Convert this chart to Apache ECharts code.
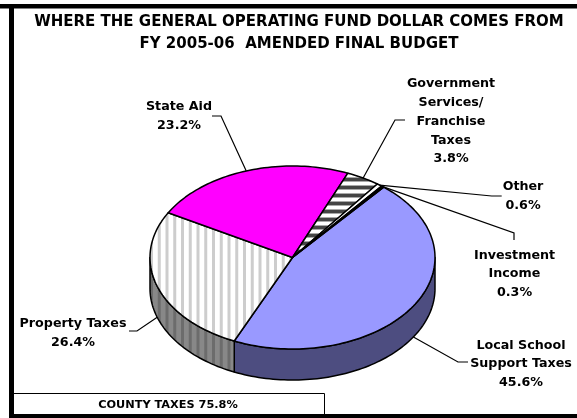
<!DOCTYPE html>
<html>
<head>
<meta charset="utf-8">
<style>html,body{margin:0;padding:0;background:#fff}#c{width:577px;height:418px}</style>
<script src="https://cdn.jsdelivr.net/npm/echarts@6/dist/echarts.min.js"></script>
</head>
<body>
<div id="c"></div>
<script>
var categories = ['Local School\nSupport Taxes', 'Property Taxes', 'State Aid', 'Government\nServices/\nFranchise\nTaxes', 'Other', 'Investment\nIncome'];
var values = [45.6, 26.4, 23.2, 3.8, 0.6, 0.3];
var titleLines = ['WHERE THE GENERAL OPERATING FUND DOLLAR COMES FROM', 'FY 2005-06  AMENDED FINAL BUDGET'];
var noteText = 'COUNTY TAXES 75.8%';

var FONT = '"DejaVu Sans", Verdana, sans-serif';
var START_DEG = 39.8;
var DEPTH = 0.339;

function stripes(w, h, period, vertical, bg, parts, phase) {
  var c = document.createElement('canvas');
  c.width = w; c.height = h;
  var g = c.getContext('2d');
  g.fillStyle = bg; g.fillRect(0, 0, w, h);
  var len = vertical ? w : h;
  for (var p = phase - period; p < len + period; p += period) {
    parts.forEach(function (s) {
      g.fillStyle = s[2];
      if (vertical) g.fillRect(p + s[0], 0, s[1], h);
      else g.fillRect(0, p + s[0], w, s[1]);
    });
  }
  return { image: c, repeat: 'repeat' };
}
var vertLight = stripes(31, 8, 7.75, true, '#ffffff', [[-1.5, 3, '#cdcdcd']], 4.25);
var vertDark = stripes(31, 8, 7.75, true, '#888888', [[-1.5, 3, '#6c6c6c']], 4.25);
var horiz = stripes(8, 24, 8, false, '#ffffff', [[0, 1, '#a8a8a8'], [1, 3, '#444444'], [4, 1, '#a8a8a8']], 1);

var topFill = ['#9999ff', vertLight, '#ff00ff', horiz, '#ffffff', '#000000'];
var sideFill = ['#4d4d80', vertDark, '#800080', '#555555', '#808080', '#000000'];

// leader route after the anchor on the slice, and label centre (px)
var leaders = [
  { route: [[458, 362], [468, 362]], onSide: true, text: [521, 364] },
  { route: [[137, 331], [129, 331]], onSide: true, text: [73, 333] },
  { route: [[221, 116], [212, 116]], text: [179, 116.5] },
  { route: [[395, 120], [405, 120]], text: [451, 121.5] },
  { route: [[491.7, 196], [501.7, 196]], text: [523, 196] },
  { route: [[514, 233], [514, 240]], text: [514.5, 274] }
];

var total = values.reduce(function (a, b) { return a + b; }, 0);
var starts = [];
values.reduce(function (acc, v, i) { starts[i] = acc; return acc + v / total * 360; }, START_DEG);

function rim(deg, down) {
  var r = deg * Math.PI / 180;
  return [Math.sin(r), Math.cos(r) - (down ? DEPTH : 0)];
}

function renderSlice(params, api) {
  var i = params.dataIndex;
  var from = starts[i], span = api.value(1) / total * 360, to = from + span;
  var px = function (p) { return api.coord(p); };
  var kids = [];
  var arc = [], n = Math.max(2, Math.ceil(span / 1.5));
  for (var k = 0; k <= n; k++) arc.push(px(rim(from + span * k / n)));

  // visible outer wall: front half of the rim, 90..270 degrees
  var a = Math.max(from, 90), b = Math.min(to, 270);
  if (b > a) {
    var upper = [], lower = [], m = Math.ceil((b - a) / 1.5);
    for (var j = 0; j <= m; j++) {
      var d = a + (b - a) * j / m;
      upper.push(px(rim(d)));
      lower.unshift(px(rim(d, true)));
    }
    kids.push({
      type: 'polygon', z2: 1, shape: { points: upper.concat(lower) },
      style: { fill: sideFill[i], stroke: '#000', lineWidth: 1.5, lineJoin: 'round' }
    });
  }
  // top face
  kids.push({
    type: 'polygon', z2: 2, shape: { points: [px([0, 0])].concat(arc) },
    style: { fill: topFill[i], stroke: '#000', lineWidth: 1.5, lineJoin: 'round' }
  });
  // leader and label
  var L = leaders[i];
  var anchor = px(rim(from + span / 2, L.onSide));
  kids.push({
    type: 'polyline', z2: 3, shape: { points: [anchor].concat(L.route) },
    style: { fill: null, stroke: '#000', lineWidth: 1.2 }
  });
  kids.push({
    type: 'text', z2: 4, x: L.text[0], y: L.text[1],
    style: {
      text: categories[i] + '\n' + api.value(1).toFixed(1) + '%',
      font: 'bold 12.7px ' + FONT, fill: '#000', align: 'center', verticalAlign: 'middle', lineHeight: 18.7
    }
  });
  return { type: 'group', children: kids };
}

var chart = echarts.init(document.getElementById('c'), null, { renderer: 'canvas' });
chart.setOption({
  animation: false,
  backgroundColor: '#fff',
  title: {
    text: titleLines.join('\n'), left: 294, top: 6.5, textAlign: 'center',
    textStyle: { fontFamily: FONT, fontWeight: 'bold', fontSize: 15, lineHeight: 22, color: '#000' }
  },
  grid: { left: 150, top: 166, width: 285, height: 183 },
  xAxis: { type: 'value', min: -1, max: 1, show: false },
  yAxis: { type: 'value', min: -1, max: 1, show: false },
  graphic: [
    { type: 'rect', shape: { x: 0, y: 4, width: 577, height: 4.5 }, style: { fill: '#000' }, z: 10 },
    { type: 'rect', shape: { x: 9, y: 4, width: 5, height: 414 }, style: { fill: '#000' }, z: 10 },
    { type: 'rect', shape: { x: 9, y: 414, width: 568, height: 4 }, style: { fill: '#000' }, z: 10 },
    { type: 'rect', shape: { x: 13.5, y: 393.5, width: 311, height: 21 }, style: { fill: '#fff', stroke: '#000', lineWidth: 1 }, z: 9 },
    { type: 'text', x: 168, y: 405, style: { text: noteText, font: 'bold 11.3px ' + FONT, fill: '#000', align: 'center', verticalAlign: 'middle' }, z: 11 }
  ],
  series: [{
    type: 'custom', coordinateSystem: 'cartesian2d', clip: false, silent: true,
    renderItem: renderSlice,
    encode: { x: 0, y: 1 },
    data: values.map(function (v, i) { return [i, v]; })
  }]
});
</script>
</body>
</html>
